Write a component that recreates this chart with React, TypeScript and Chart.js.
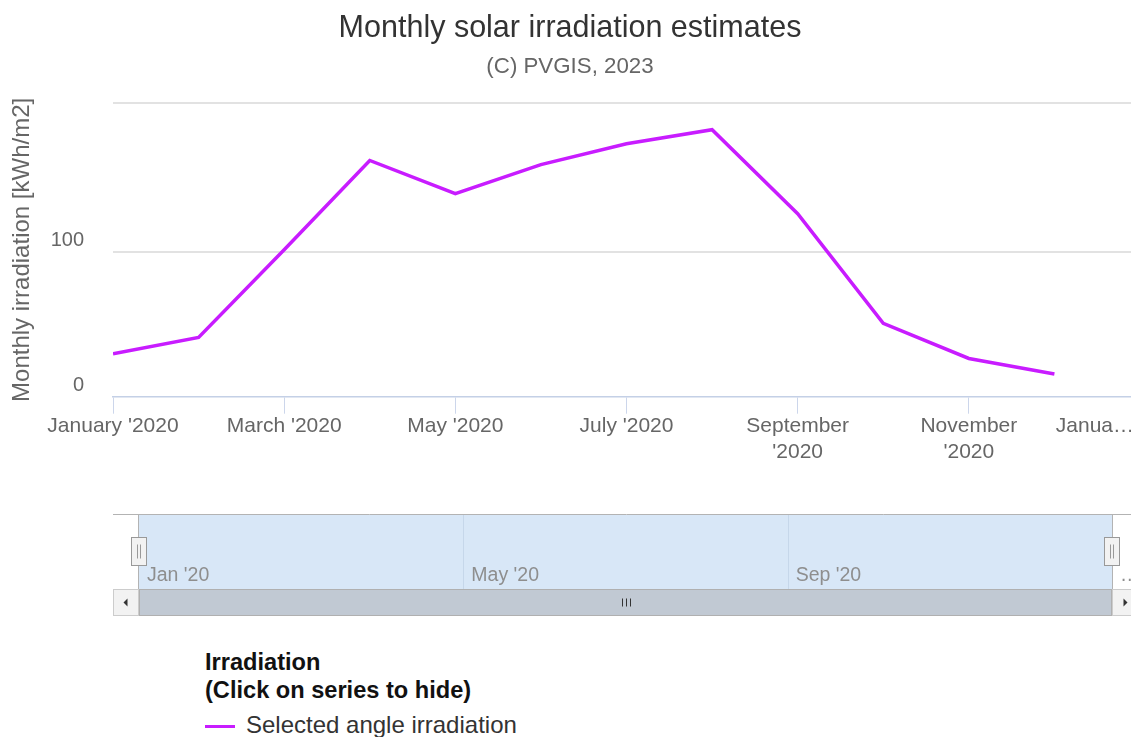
import React, { useEffect, useRef } from "react";
import { Chart, registerables } from "chart.js";

Chart.register(...registerables);

const FONT = "'Liberation Sans', Arial, Helvetica, sans-serif";

// ---- data ----
const monthIndex = [0, 1, 2, 3, 4, 5, 6, 7, 8, 9, 10, 11];
const irradiation = [29.6, 40.9, 101.4, 163.0, 140.1, 160.1, 174.5, 184.2, 126.3, 50.6, 26.4, 15.6];
const seriesName = "Selected angle irradiation";
const lineColor = "#c81cff";

const titleText = "Monthly solar irradiation estimates";
const subtitleText = "(C) PVGIS, 2023";
const yAxisTitle = "Monthly irradiation [kWh/m2]";

const xTickValues = [0, 2, 4, 6, 8, 10, 12];
const xTickLabels: (string | string[])[] = [
  "January '2020",
  "March '2020",
  "May '2020",
  "July '2020",
  ["September", "'2020"],
  ["November", "'2020"],
  "Janua\u2026",
];
const yTickValues = [0, 100, 202.6];
const yTickLabels = ["0", "100", ""];

const navTickValues = [0, 4, 8, 12];
const navTickLabels = ["Jan '20", "May '20", "Sep '20", "\u2026"];

const legendTitle = ["Irradiation", "(Click on series to hide)"];

// draws the last (justified, truncated) x label like the original
const lastXLabelPlugin = {
  id: "lastXLabel",
  afterDraw(chart: any) {
    const { ctx } = chart;
    const x = chart.scales.x;
    const last = xTickLabels[xTickLabels.length - 1] as string;
    ctx.save();
    ctx.font = `21px ${FONT}`;
    ctx.fillStyle = "#666";
    ctx.textAlign = "right";
    ctx.textBaseline = "middle";
    ctx.fillText(last, chart.width - 6, x.top + 17 - 1 + 13.1);
    ctx.restore();
  },
};

const navPlugin = {
  id: "navDecor",
  afterDraw(chart: any) {
    const { ctx, chartArea: a } = chart;
    const x = chart.scales.x;
    const btn = 26;
    ctx.save();
    // mask fill
    ctx.fillStyle = "#d8e7f7";
    ctx.fillRect(a.left, a.top, a.right - a.left, a.bottom - a.top);
    // grid lines
    ctx.strokeStyle = "#c6d7ea";
    ctx.lineWidth = 1;
    navTickValues.forEach((v) => {
      const px = Math.round(x.getPixelForValue(v)) + 0.5;
      if (px > a.left + 1 && px < a.right - 1) {
        ctx.beginPath();
        ctx.moveTo(px, a.top);
        ctx.lineTo(px, a.bottom);
        ctx.stroke();
      }
    });
    // labels
    ctx.fillStyle = "#8e8e8e";
    ctx.font = `19.5px ${FONT}`;
    ctx.textAlign = "left";
    ctx.textBaseline = "middle";
    navTickValues.forEach((v, i) => {
      ctx.fillText(navTickLabels[i], x.getPixelForValue(v) + 8, a.bottom - 13);
    });
    // outline
    ctx.strokeStyle = "#b3b3b3";
    ctx.beginPath();
    ctx.moveTo(a.left - btn, a.top - 0.5);
    ctx.lineTo(chart.width, a.top - 0.5);
    ctx.moveTo(a.left - 0.5, a.top - 0.5);
    ctx.lineTo(a.left - 0.5, a.bottom);
    ctx.moveTo(a.right + 0.5, a.top - 0.5);
    ctx.lineTo(a.right + 0.5, a.bottom);
    ctx.stroke();
    // scrollbar
    const sbTop = a.bottom;
    const sbH = 27;
    const cy = sbTop + sbH / 2;
    ctx.fillStyle = "#c1c9d3";
    ctx.strokeStyle = "#b0b0b0";
    ctx.fillRect(a.left, sbTop, a.right - a.left, sbH);
    ctx.strokeRect(a.left + 0.5, sbTop + 0.5, a.right - a.left - 1, sbH - 1);
    // rifles
    const cx = Math.round((a.left + a.right) / 2) + 0.5;
    ctx.strokeStyle = "#333";
    ctx.beginPath();
    [-4, 0, 4].forEach((d) => {
      ctx.moveTo(cx + d, cy - 4);
      ctx.lineTo(cx + d, cy + 4);
    });
    ctx.stroke();
    // buttons
    const drawBtn = (bx: number, dir: number) => {
      ctx.fillStyle = "#f2f2f2";
      ctx.strokeStyle = "#cccccc";
      ctx.fillRect(bx, sbTop, btn, sbH);
      ctx.strokeRect(bx + 0.5, sbTop + 0.5, btn - 1, sbH - 1);
      const bcx = bx + btn / 2;
      ctx.fillStyle = "#333";
      ctx.beginPath();
      ctx.moveTo(bcx - 2.5 * dir, cy);
      ctx.lineTo(bcx + 1.5 * dir, cy - 4);
      ctx.lineTo(bcx + 1.5 * dir, cy + 4);
      ctx.closePath();
      ctx.fill();
    };
    drawBtn(a.left - btn, 1);
    drawBtn(a.right, -1);
    // handles
    const drawHandle = (hx: number) => {
      const left = Math.round(hx - 8) + 0.5;
      const top = a.top + 22.5;
      ctx.fillStyle = "#f2f2f2";
      ctx.strokeStyle = "#999";
      ctx.fillRect(left, top, 15, 28);
      ctx.strokeRect(left, top, 15, 28);
      ctx.beginPath();
      ctx.moveTo(left + 6, top + 7);
      ctx.lineTo(left + 6, top + 21);
      ctx.moveTo(left + 9, top + 7);
      ctx.lineTo(left + 9, top + 21);
      ctx.stroke();
    };
    drawHandle(a.left);
    drawHandle(a.right);
    ctx.restore();
  },
};

export default function App() {
  const mainRef = useRef<HTMLCanvasElement>(null);
  const navRef = useRef<HTMLCanvasElement>(null);

  useEffect(() => {
    if (!mainRef.current || !navRef.current) return;
    const main = new Chart(mainRef.current, {
      type: "line",
      data: {
        datasets: [
          {
            label: seriesName,
            data: monthIndex.map((m, i) => ({ x: m, y: irradiation[i] })),
            borderColor: lineColor,
            backgroundColor: lineColor,
            borderWidth: 3.5,
            pointRadius: 0,
            tension: 0,
            fill: false,
          },
        ],
      },
      options: {
        animation: false,
        responsive: false,
        devicePixelRatio: 1,
        layout: { padding: { left: 0, right: 0, top: 0, bottom: 0 } },
        plugins: {
          legend: { display: false },
          tooltip: { enabled: false },
          title: {
            display: true,
            text: titleText,
            color: "#333",
            font: { family: FONT, size: 30.5, weight: "normal", lineHeight: 1.2 },
            padding: { top: 10, bottom: 7.2 },
          },
          subtitle: {
            display: true,
            text: subtitleText,
            color: "#666",
            font: { family: FONT, size: 22.3, weight: "normal", lineHeight: 1.2 },
            padding: { top: 0, bottom: 22.5 },
          },
        },
        scales: {
          x: {
            type: "linear",
            min: 0,
            max: 12,
            afterBuildTicks: (s: any) => {
              s.ticks = xTickValues.map((v) => ({ value: v }));
            },
            afterFit: (s: any) => {
              s.height = 73.3;
            },
            grid: {
              display: true,
              drawOnChartArea: false,
              drawTicks: true,
              tickLength: 17,
              color: "#ccd6eb",
              lineWidth: 1,
            },
            border: { display: true, color: "#c4d0e6", width: 1.5 },
            ticks: {
              autoSkip: false,
              maxRotation: 0,
              minRotation: 0,
              padding: -1,
              color: "#666",
              font: { family: FONT, size: 21, lineHeight: 1.25 },
              callback: (_v: any, i: number) => (i === xTickLabels.length - 1 ? "" : xTickLabels[i]),
            },
          },
          y: {
            min: 0,
            max: 202.6,
            afterBuildTicks: (s: any) => {
              s.ticks = yTickValues.map((v) => ({ value: v }));
            },
            afterFit: (s: any) => {
              s.width = 113;
            },
            grid: {
              color: (c: any) => (c.tick && c.tick.value === 0 ? "rgba(0,0,0,0)" : "#e2e2e2"),
              drawTicks: false,
              lineWidth: 2,
            },
            border: { display: false },
            ticks: {
              padding: 29,
              labelOffset: -11,
              color: "#666",
              font: { family: FONT, size: 20 },
              callback: (_v: any, i: number) => yTickLabels[i],
            },
            title: {
              display: true,
              text: yAxisTitle,
              color: "#666",
              font: { family: FONT, size: 24, lineHeight: 1.2 },
              padding: { top: 8, bottom: 0 },
            },
          },
        },
      },
      plugins: [lastXLabelPlugin],
    } as any);

    const nav = new Chart(navRef.current, {
      type: "line",
      data: { datasets: [] },
      options: {
        animation: false,
        responsive: false,
        devicePixelRatio: 1,
        layout: { padding: { left: 139, right: 28, top: 15, bottom: 36 } },
        plugins: { legend: { display: false }, tooltip: { enabled: false } },
        scales: {
          x: { type: "linear", min: 0, max: 12, display: false },
          y: { min: 0, max: 1, display: false },
        },
      },
      plugins: [navPlugin],
    } as any);

    return () => {
      main.destroy();
      nav.destroy();
    };
  }, []);

  return (
    <div
      style={{
        position: "fixed",
        left: 0,
        top: 0,
        width: 1131,
        height: 737,
        overflow: "hidden",
        background: "#fff",
      }}
    >
      <canvas
        ref={mainRef}
        width={1140}
        height={470}
        style={{ position: "absolute", left: 0, top: 0, width: 1140, height: 470 }}
      />
      <canvas
        ref={navRef}
        width={1140}
        height={125}
        style={{ position: "absolute", left: 0, top: 500, width: 1140, height: 125 }}
      />
      {legendTitle.map((t, i) => (
        <div
          key={t}
          style={{
            position: "absolute",
            left: 205,
            top: 650 + i * 28,
            font: `bold 23.6px ${FONT}`,
            lineHeight: "24px",
            color: "#111",
            whiteSpace: "nowrap",
          }}
        >
          {t}
        </div>
      ))}
      <div
        style={{
          position: "absolute",
          left: 205,
          top: 725,
          width: 30,
          height: 3,
          background: lineColor,
        }}
      />
      <div
        style={{
          position: "absolute",
          left: 246,
          top: 713,
          font: `24px ${FONT}`,
          lineHeight: "24px",
          color: "#333",
          whiteSpace: "nowrap",
        }}
      >
        {seriesName}
      </div>
    </div>
  );
}
